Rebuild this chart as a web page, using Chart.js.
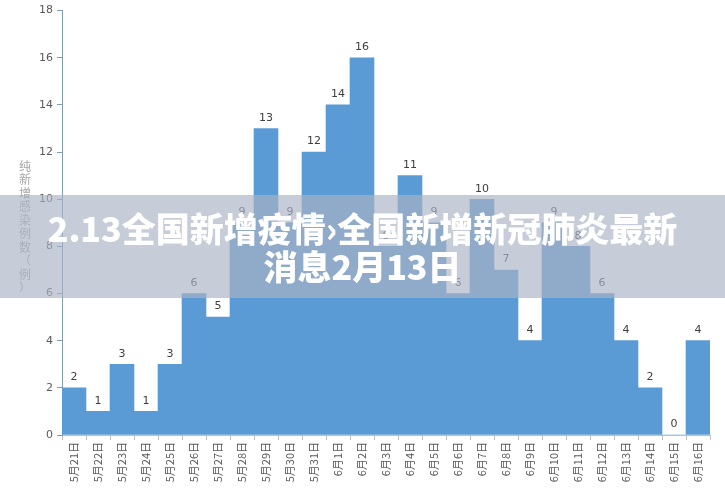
<!DOCTYPE html>
<html>
<head>
<meta charset="utf-8">
<script src="https://cdn.jsdelivr.net/npm/chart.js@4"></script>
<style>
  html, body { margin: 0; padding: 0; background: #fff; }
  #wrap { position: relative; width: 725px; height: 494px; }
  #banner {
    position: absolute; left: 0; top: 195px; width: 725px; height: 103px;
    background: rgba(170, 179, 197, 0.67);
    color: #fff; font-family: "Noto Sans CJK SC", sans-serif; font-weight: 900;
    font-size: 34px; line-height: 38px; text-align: center;
    padding-top: 14px; box-sizing: border-box; white-space: nowrap;
  }
</style>
</head>
<body>
<div id="wrap">
  <canvas id="chart" width="725" height="494"></canvas>
  <div id="banner">2.13全国新增疫情›全国新增新冠肺炎最新<br>消息2月13日</div>
</div>
<script>
const categories = ["5月21日", "5月22日", "5月23日", "5月24日", "5月25日", "5月26日", "5月27日",
  "5月28日", "5月29日", "5月30日", "5月31日", "6月1日", "6月2日", "6月3日", "6月4日", "6月5日",
  "6月6日", "6月7日", "6月8日", "6月9日", "6月10日", "6月11日", "6月12日", "6月13日", "6月14日",
  "6月15日", "6月16日"];
const newCases = [2, 1, 3, 1, 3, 6, 5, 9, 13, 9, 12, 14, 16, 8, 11, 9, 6, 10, 7, 4, 9, 8, 6, 4, 2, 0, 4];
const yTitle = "纯新增感染例数（例）";

const valueLabels = {
  id: "valueLabels",
  afterDatasetsDraw(chart) {
    const ctx = chart.ctx;
    const meta = chart.getDatasetMeta(0);
    ctx.save();
    ctx.fillStyle = "#404040";
    ctx.font = "11px 'DejaVu Sans', sans-serif";
    ctx.textAlign = "center";
    ctx.textBaseline = "bottom";
    meta.data.forEach((bar, i) => {
      ctx.fillText(String(newCases[i]), bar.x, bar.y - 5);
    });
    ctx.restore();
  }
};

const verticalTitle = {
  id: "verticalTitle",
  afterDraw(chart) {
    const ctx = chart.ctx;
    ctx.save();
    ctx.fillStyle = "#a6a6a6";
    ctx.font = "12px 'Noto Sans CJK SC', sans-serif";
    ctx.textAlign = "center";
    ctx.textBaseline = "middle";
    let y = 166;
    for (const ch of yTitle) {
      ctx.fillText(ch, 25, y);
      y += 13.5;
    }
    ctx.restore();
  }
};

new Chart(document.getElementById("chart").getContext("2d"), {
  type: "bar",
  data: {
    labels: categories,
    datasets: [{
      data: newCases,
      backgroundColor: "#5b9bd5",
      barPercentage: 1,
      categoryPercentage: 1
    }]
  },
  options: {
    responsive: false,
    animation: false,
    layout: { padding: { left: 0, right: 15, top: 8, bottom: 0 } },
    plugins: { legend: { display: false }, tooltip: { enabled: false } },
    scales: {
      x: {
        grid: { display: true, drawOnChartArea: false, offset: true, tickLength: 5, color: "#bfbfbf" },
        border: { color: "#bfbfbf" },
        ticks: {
          color: "#595959", font: { size: 11, family: "'Noto Sans CJK SC', sans-serif" },
          minRotation: 90, maxRotation: 90, autoSkip: false, padding: 2
        },
        afterFit(s) { s.height = 59; }
      },
      y: {
        min: 0, max: 18,
        grid: { display: true, drawOnChartArea: false, tickLength: 5, color: "#7f9fb5" },
        border: { color: "#7f9fb5" },
        ticks: { stepSize: 2, color: "#595959", font: { size: 11, family: "'DejaVu Sans', sans-serif" }, padding: 4 },
        afterFit(s) { s.width = 62; }
      }
    }
  },
  plugins: [valueLabels, verticalTitle]
});
</script>
</body>
</html>
